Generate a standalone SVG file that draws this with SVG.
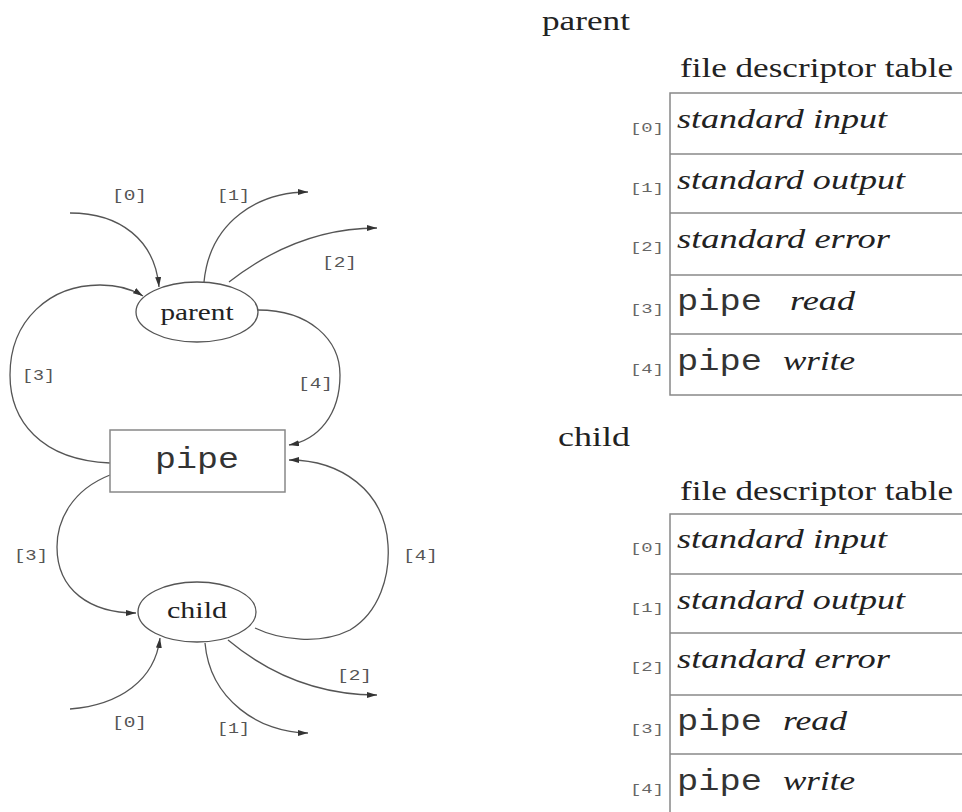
<svg xmlns="http://www.w3.org/2000/svg" width="962" height="812" viewBox="0 0 962 812">
<defs>
<marker id="ah" viewBox="0 0 10 6" refX="10" refY="3" markerWidth="10" markerHeight="6" markerUnits="userSpaceOnUse" orient="auto">
<path d="M0,0 L10,3 L0,6 Z" fill="#333"/>
</marker>
</defs>
<style>
.c{fill:none;stroke:#555;stroke-width:1.3;}
.ca{fill:none;stroke:#555;stroke-width:1.3;marker-end:url(#ah);}
.lbl{font-family:"Liberation Mono",monospace;font-size:15px;fill:#555;}
.idx{font-family:"Liberation Mono",monospace;font-size:13px;fill:#666;}
.serif{font-family:"Liberation Serif",serif;fill:#222;}
.it{font-family:"Liberation Serif",serif;font-style:italic;font-size:28px;fill:#222;}
.mono{font-family:"Liberation Mono",monospace;fill:#333;}
.node{fill:#fff;stroke:#555;stroke-width:1.3;}
.tbl{fill:#fff;stroke:#888;stroke-width:1.5;}
.row{stroke:#888;stroke-width:1.5;}
</style>
<rect width="962" height="812" fill="#fff"/>

<g id="connectors">
<path class="ca" d="M70,213 C120,213 155,240 159,287"/>
<path class="ca" d="M204,282 C210,220 260,192 308,192"/>
<path class="ca" d="M229,282 C270,250 320,228 377,228"/>
<path class="ca" d="M110,463 C40,460 10,420 10,375 C10,320 50,285 100,285 C118,285 132,289 143,296"/>
<path class="ca" d="M258,310 C310,310 340,340 340,375 C340,415 318,440 289,445"/>
<path class="ca" d="M255,628 C280,640 320,645 350,630 C380,612 390,575 388,545 C385,490 340,460 289,460"/>
<path class="ca" d="M110,475 C72,490 57,520 57,547 C57,590 90,613 136,613"/>
<path class="ca" d="M70,709 C120,705 155,680 160,638"/>
<path class="ca" d="M205,643 C210,700 260,733 308,733"/>
<path class="ca" d="M228,640 C270,675 320,695 377,695"/>
<text class="lbl" x="112" y="200" textLength="35" lengthAdjust="spacingAndGlyphs">[0]</text>
<text class="lbl" x="217" y="200" textLength="33" lengthAdjust="spacingAndGlyphs">[1]</text>
<text class="lbl" x="322" y="267" textLength="35" lengthAdjust="spacingAndGlyphs">[2]</text>
<text class="lbl" x="22" y="380" textLength="33" lengthAdjust="spacingAndGlyphs">[3]</text>
<text class="lbl" x="298" y="388" textLength="35" lengthAdjust="spacingAndGlyphs">[4]</text>
<text class="lbl" x="14" y="560" textLength="34" lengthAdjust="spacingAndGlyphs">[3]</text>
<text class="lbl" x="403" y="560" textLength="35" lengthAdjust="spacingAndGlyphs">[4]</text>
<text class="lbl" x="337" y="680" textLength="35" lengthAdjust="spacingAndGlyphs">[2]</text>
<text class="lbl" x="112" y="727" textLength="35" lengthAdjust="spacingAndGlyphs">[0]</text>
<text class="lbl" x="217" y="733" textLength="33" lengthAdjust="spacingAndGlyphs">[1]</text>
</g>

<g id="parent-node">
<ellipse class="node" cx="197" cy="312" rx="61" ry="30"/>
<text class="serif" x="197" y="320" font-size="24" text-anchor="middle" textLength="73" lengthAdjust="spacingAndGlyphs">parent</text>
</g>

<g id="pipe-node">
<rect x="110" y="430" width="175" height="62" fill="#fff" stroke="#888" stroke-width="1.5"/>
<text class="mono" x="197" y="468" font-size="30" text-anchor="middle" textLength="84" lengthAdjust="spacingAndGlyphs">pipe</text>
</g>

<g id="child-node">
<ellipse class="node" cx="197" cy="612" rx="59" ry="30"/>
<text class="serif" x="197" y="618" font-size="24" text-anchor="middle" textLength="60" lengthAdjust="spacingAndGlyphs">child</text>
</g>

<g id="parent-table">
<text class="serif" x="542" y="30" font-size="27" textLength="88" lengthAdjust="spacingAndGlyphs">parent</text>
<text class="serif" x="680" y="77" font-size="27" textLength="273" lengthAdjust="spacingAndGlyphs">file descriptor table</text>
<rect class="tbl" x="670" y="93" width="310" height="302"/>
<line class="row" x1="670" y1="154" x2="962" y2="154"/>
<line class="row" x1="670" y1="213" x2="962" y2="213"/>
<line class="row" x1="670" y1="275" x2="962" y2="275"/>
<line class="row" x1="670" y1="334" x2="962" y2="334"/>
<text class="idx" x="630" y="132" textLength="34" lengthAdjust="spacingAndGlyphs">[0]</text>
<text class="idx" x="630" y="192" textLength="34" lengthAdjust="spacingAndGlyphs">[1]</text>
<text class="idx" x="630" y="251" textLength="34" lengthAdjust="spacingAndGlyphs">[2]</text>
<text class="idx" x="630" y="313" textLength="34" lengthAdjust="spacingAndGlyphs">[3]</text>
<text class="idx" x="630" y="373" textLength="34" lengthAdjust="spacingAndGlyphs">[4]</text>
<text class="it" x="677" y="128" textLength="210" lengthAdjust="spacingAndGlyphs">standard input</text>
<text class="it" x="677" y="189" textLength="228" lengthAdjust="spacingAndGlyphs">standard output</text>
<text class="it" x="677" y="248" textLength="213" lengthAdjust="spacingAndGlyphs">standard error</text>
<text class="mono" x="677" y="310" font-size="30" textLength="85" lengthAdjust="spacingAndGlyphs">pipe</text>
<text class="it" x="790" y="310" textLength="65" lengthAdjust="spacingAndGlyphs">read</text>
<text class="mono" x="677" y="370" font-size="30" textLength="85" lengthAdjust="spacingAndGlyphs">pipe</text>
<text class="it" x="783" y="370" textLength="72" lengthAdjust="spacingAndGlyphs">write</text>
</g>

<g id="child-table">
<text class="serif" x="558" y="446" font-size="27" textLength="72" lengthAdjust="spacingAndGlyphs">child</text>
<text class="serif" x="680" y="500" font-size="27" textLength="273" lengthAdjust="spacingAndGlyphs">file descriptor table</text>
<rect class="tbl" x="670" y="514" width="310" height="320"/>
<line class="row" x1="670" y1="574" x2="962" y2="574"/>
<line class="row" x1="670" y1="633" x2="962" y2="633"/>
<line class="row" x1="670" y1="695" x2="962" y2="695"/>
<line class="row" x1="670" y1="754" x2="962" y2="754"/>
<text class="idx" x="630" y="552" textLength="34" lengthAdjust="spacingAndGlyphs">[0]</text>
<text class="idx" x="630" y="612" textLength="34" lengthAdjust="spacingAndGlyphs">[1]</text>
<text class="idx" x="630" y="671" textLength="34" lengthAdjust="spacingAndGlyphs">[2]</text>
<text class="idx" x="630" y="733" textLength="34" lengthAdjust="spacingAndGlyphs">[3]</text>
<text class="idx" x="630" y="793" textLength="34" lengthAdjust="spacingAndGlyphs">[4]</text>
<text class="it" x="677" y="548" textLength="210" lengthAdjust="spacingAndGlyphs">standard input</text>
<text class="it" x="677" y="609" textLength="228" lengthAdjust="spacingAndGlyphs">standard output</text>
<text class="it" x="677" y="668" textLength="213" lengthAdjust="spacingAndGlyphs">standard error</text>
<text class="mono" x="677" y="730" font-size="30" textLength="85" lengthAdjust="spacingAndGlyphs">pipe</text>
<text class="it" x="783" y="730" textLength="64" lengthAdjust="spacingAndGlyphs">read</text>
<text class="mono" x="677" y="790" font-size="30" textLength="85" lengthAdjust="spacingAndGlyphs">pipe</text>
<text class="it" x="783" y="790" textLength="72" lengthAdjust="spacingAndGlyphs">write</text>
</g>
</svg>
